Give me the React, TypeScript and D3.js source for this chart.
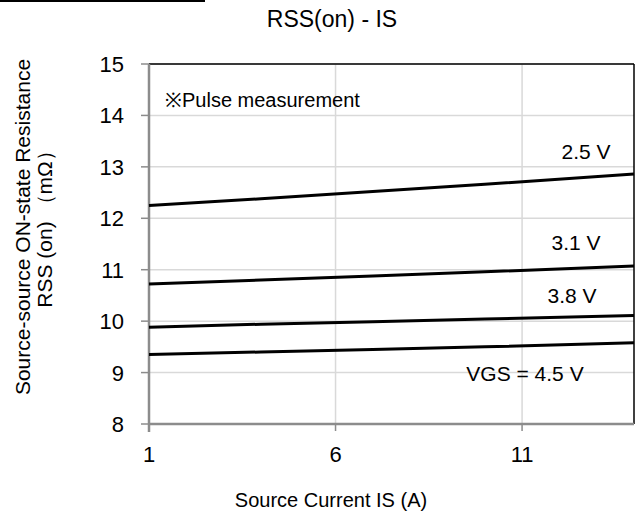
import React from "react";
import * as d3 from "d3";

const xValues = [1, 4, 7, 10, 14];
const series25 = [12.25, 12.38, 12.52, 12.66, 12.86];
const series31 = [10.72, 10.8, 10.88, 10.96, 11.07];
const series38 = [9.88, 9.94, 9.99, 10.04, 10.11];
const series45 = [9.35, 9.4, 9.45, 9.5, 9.58];
const seriesLabels = ["2.5 V", "3.1 V", "3.8 V", "VGS = 4.5 V"];
const xTicks = [1, 6, 11];
const yTicks = [8, 9, 10, 11, 12, 13, 14, 15];

const W = 637;
const H = 517;
const margin = { left: 149, right: 3, top: 64, bottom: 93 };
const font = "'Liberation Sans', Arial, sans-serif";

export default function App() {
  const x = d3.scaleLinear().domain([1, 14]).range([margin.left, W - margin.right]);
  const y = d3.scaleLinear().domain([8, 15]).range([H - margin.bottom, margin.top]);
  const line = d3
    .line<number>()
    .x((_, i) => x(xValues[i]))
    .y((d) => y(d));
  const all = [series25, series31, series38, series45];
  const labelPos = [
    { x: 586, y: 159 },
    { x: 576, y: 250 },
    { x: 572, y: 303 },
    { x: 525, y: 381 },
  ];
  const x0 = x(1), x1 = x(14), y0 = y(8), y1 = y(15);
  return (
    <svg
      width={W}
      height={H}
      style={{ position: "absolute", left: 0, top: 0, background: "#fff" }}
      fontFamily={font}
    >
      <line x1={0} x2={205} y1={1} y2={1} stroke="#000" strokeWidth={2} />
      <text x={332} y={27} textAnchor="middle" fontSize={23}>
        RSS(on) - IS
      </text>
      {yTicks.map((t) => (
        <line key={"gy" + t} x1={x0} x2={x1} y1={y(t)} y2={y(t)} stroke="#d9d9d9" strokeWidth={1.5} />
      ))}
      {xTicks.map((t) => (
        <line key={"gx" + t} x1={x(t)} x2={x(t)} y1={y0} y2={y1} stroke="#d9d9d9" strokeWidth={1.5} />
      ))}
      <line x1={x0} x2={x1} y1={y1} y2={y1} stroke="#000" strokeWidth={1.5} />
      <line x1={x1} x2={x1} y1={y1} y2={y0} stroke="#000" strokeWidth={1.5} />
      <line x1={x0} x2={x1} y1={y0} y2={y0} stroke="#8c8c8c" strokeWidth={2.5} />
      <line x1={x0} x2={x0} y1={y1} y2={y0 + 8} stroke="#8c8c8c" strokeWidth={2.5} />
      {yTicks.map((t) => (
        <g key={"ty" + t}>
          <line x1={x0 - 8} x2={x0} y1={y(t)} y2={y(t)} stroke="#8c8c8c" strokeWidth={1.5} />
          <text x={124} y={y(t) + 8} textAnchor="end" fontSize={22}>
            {t}
          </text>
        </g>
      ))}
      {xTicks.map((t) => (
        <g key={"tx" + t}>
          <line x1={x(t)} x2={x(t)} y1={y0} y2={y0 + 7} stroke="#8c8c8c" strokeWidth={1.5} />
          <text x={x(t)} y={462} textAnchor="middle" fontSize={22}>
            {t}
          </text>
        </g>
      ))}
      {all.map((s, i) => (
        <path key={"s" + i} d={line(s) || ""} fill="none" stroke="#000" strokeWidth={3} />
      ))}
      {seriesLabels.map((l, i) => (
        <text key={"l" + i} x={labelPos[i].x} y={labelPos[i].y} textAnchor="middle" fontSize={21}>
          {l}
        </text>
      ))}
      <text x={165} y={107} fontSize={20}>
        ※Pulse measurement
      </text>
      <text x={331} y={507} textAnchor="middle" fontSize={20}>
        Source Current IS (A)
      </text>
      <text transform="translate(30,227) rotate(-90)" textAnchor="middle" fontSize={21}>
        Source-source ON-state Resistance
      </text>
      <text transform="translate(52,224) rotate(-90)" textAnchor="middle" fontSize={21}>
        RSS (on) （mΩ）
      </text>
    </svg>
  );
}
